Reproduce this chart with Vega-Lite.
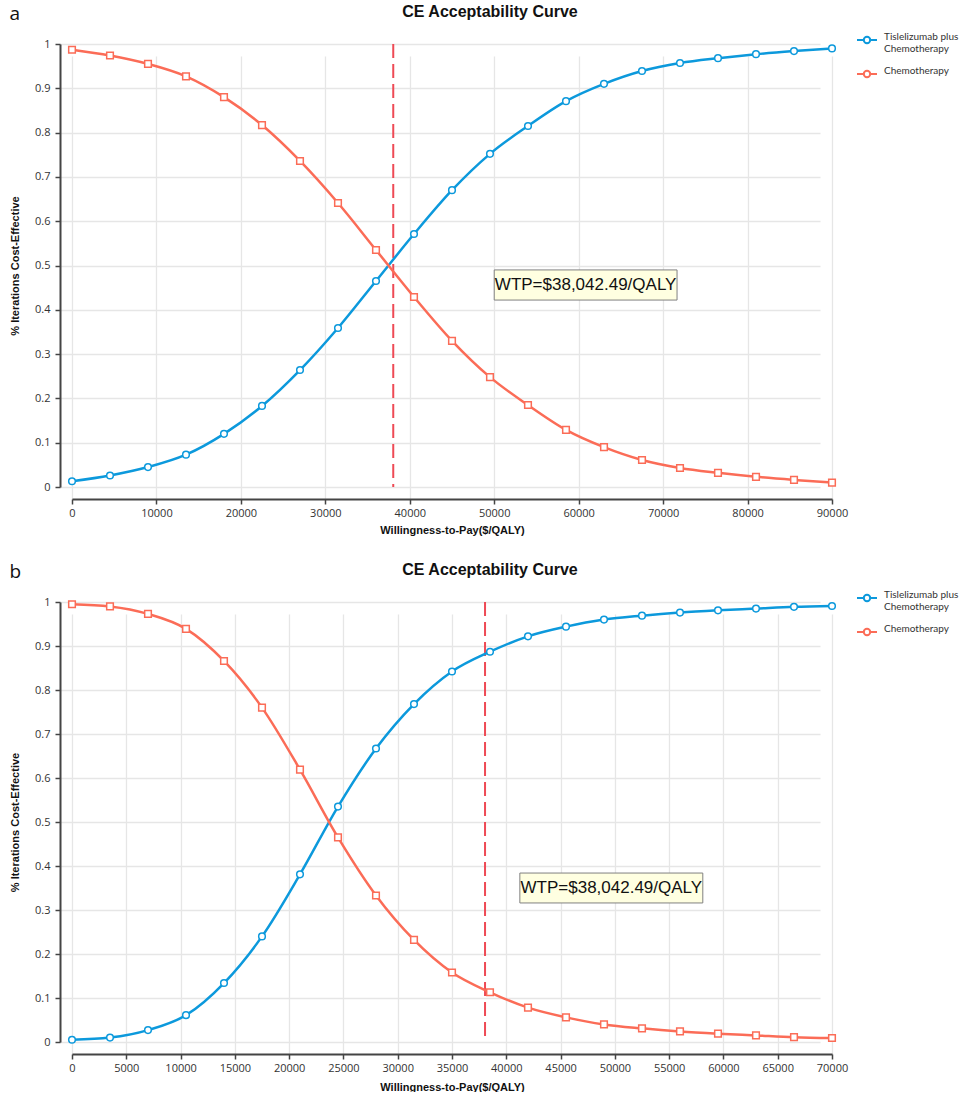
{
  "$schema": "https://vega.github.io/schema/vega-lite/v6.json",
  "description": "Cost-effectiveness acceptability curves, two scenarios.",
  "padding": {"left": 9, "top": 4, "right": 0, "bottom": 0},
  "background": "white",
  "datasets": {
    "curves": [
      {"panel": "a", "wtp": 0, "strategy": "Tislelizumab plus Chemotherapy", "p": 0.013},
      {"panel": "a", "wtp": 4500, "strategy": "Tislelizumab plus Chemotherapy", "p": 0.026},
      {"panel": "a", "wtp": 9000, "strategy": "Tislelizumab plus Chemotherapy", "p": 0.045},
      {"panel": "a", "wtp": 13500, "strategy": "Tislelizumab plus Chemotherapy", "p": 0.073},
      {"panel": "a", "wtp": 18000, "strategy": "Tislelizumab plus Chemotherapy", "p": 0.12},
      {"panel": "a", "wtp": 22500, "strategy": "Tislelizumab plus Chemotherapy", "p": 0.183},
      {"panel": "a", "wtp": 27000, "strategy": "Tislelizumab plus Chemotherapy", "p": 0.264},
      {"panel": "a", "wtp": 31500, "strategy": "Tislelizumab plus Chemotherapy", "p": 0.359},
      {"panel": "a", "wtp": 36000, "strategy": "Tislelizumab plus Chemotherapy", "p": 0.465},
      {"panel": "a", "wtp": 40500, "strategy": "Tislelizumab plus Chemotherapy", "p": 0.571},
      {"panel": "a", "wtp": 45000, "strategy": "Tislelizumab plus Chemotherapy", "p": 0.67},
      {"panel": "a", "wtp": 49500, "strategy": "Tislelizumab plus Chemotherapy", "p": 0.752},
      {"panel": "a", "wtp": 54000, "strategy": "Tislelizumab plus Chemotherapy", "p": 0.815},
      {"panel": "a", "wtp": 58500, "strategy": "Tislelizumab plus Chemotherapy", "p": 0.871},
      {"panel": "a", "wtp": 63000, "strategy": "Tislelizumab plus Chemotherapy", "p": 0.91},
      {"panel": "a", "wtp": 67500, "strategy": "Tislelizumab plus Chemotherapy", "p": 0.939},
      {"panel": "a", "wtp": 72000, "strategy": "Tislelizumab plus Chemotherapy", "p": 0.957},
      {"panel": "a", "wtp": 76500, "strategy": "Tislelizumab plus Chemotherapy", "p": 0.968},
      {"panel": "a", "wtp": 81000, "strategy": "Tislelizumab plus Chemotherapy", "p": 0.977},
      {"panel": "a", "wtp": 85500, "strategy": "Tislelizumab plus Chemotherapy", "p": 0.984},
      {"panel": "a", "wtp": 90000, "strategy": "Tislelizumab plus Chemotherapy", "p": 0.99},
      {"panel": "a", "wtp": 0, "strategy": "Chemotherapy", "p": 0.987},
      {"panel": "a", "wtp": 4500, "strategy": "Chemotherapy", "p": 0.974},
      {"panel": "a", "wtp": 9000, "strategy": "Chemotherapy", "p": 0.955},
      {"panel": "a", "wtp": 13500, "strategy": "Chemotherapy", "p": 0.927},
      {"panel": "a", "wtp": 18000, "strategy": "Chemotherapy", "p": 0.88},
      {"panel": "a", "wtp": 22500, "strategy": "Chemotherapy", "p": 0.817},
      {"panel": "a", "wtp": 27000, "strategy": "Chemotherapy", "p": 0.736},
      {"panel": "a", "wtp": 31500, "strategy": "Chemotherapy", "p": 0.641},
      {"panel": "a", "wtp": 36000, "strategy": "Chemotherapy", "p": 0.535},
      {"panel": "a", "wtp": 40500, "strategy": "Chemotherapy", "p": 0.429},
      {"panel": "a", "wtp": 45000, "strategy": "Chemotherapy", "p": 0.33},
      {"panel": "a", "wtp": 49500, "strategy": "Chemotherapy", "p": 0.248},
      {"panel": "a", "wtp": 54000, "strategy": "Chemotherapy", "p": 0.185},
      {"panel": "a", "wtp": 58500, "strategy": "Chemotherapy", "p": 0.129},
      {"panel": "a", "wtp": 63000, "strategy": "Chemotherapy", "p": 0.09},
      {"panel": "a", "wtp": 67500, "strategy": "Chemotherapy", "p": 0.061},
      {"panel": "a", "wtp": 72000, "strategy": "Chemotherapy", "p": 0.043},
      {"panel": "a", "wtp": 76500, "strategy": "Chemotherapy", "p": 0.032},
      {"panel": "a", "wtp": 81000, "strategy": "Chemotherapy", "p": 0.023},
      {"panel": "a", "wtp": 85500, "strategy": "Chemotherapy", "p": 0.016},
      {"panel": "a", "wtp": 90000, "strategy": "Chemotherapy", "p": 0.01},
      {"panel": "b", "wtp": 0, "strategy": "Tislelizumab plus Chemotherapy", "p": 0.005},
      {"panel": "b", "wtp": 3500, "strategy": "Tislelizumab plus Chemotherapy", "p": 0.01},
      {"panel": "b", "wtp": 7000, "strategy": "Tislelizumab plus Chemotherapy", "p": 0.027},
      {"panel": "b", "wtp": 10500, "strategy": "Tislelizumab plus Chemotherapy", "p": 0.061},
      {"panel": "b", "wtp": 14000, "strategy": "Tislelizumab plus Chemotherapy", "p": 0.134},
      {"panel": "b", "wtp": 17500, "strategy": "Tislelizumab plus Chemotherapy", "p": 0.24},
      {"panel": "b", "wtp": 21000, "strategy": "Tislelizumab plus Chemotherapy", "p": 0.381},
      {"panel": "b", "wtp": 24500, "strategy": "Tislelizumab plus Chemotherapy", "p": 0.535},
      {"panel": "b", "wtp": 28000, "strategy": "Tislelizumab plus Chemotherapy", "p": 0.667},
      {"panel": "b", "wtp": 31500, "strategy": "Tislelizumab plus Chemotherapy", "p": 0.768},
      {"panel": "b", "wtp": 35000, "strategy": "Tislelizumab plus Chemotherapy", "p": 0.842},
      {"panel": "b", "wtp": 38500, "strategy": "Tislelizumab plus Chemotherapy", "p": 0.887},
      {"panel": "b", "wtp": 42000, "strategy": "Tislelizumab plus Chemotherapy", "p": 0.922},
      {"panel": "b", "wtp": 45500, "strategy": "Tislelizumab plus Chemotherapy", "p": 0.944},
      {"panel": "b", "wtp": 49000, "strategy": "Tislelizumab plus Chemotherapy", "p": 0.96},
      {"panel": "b", "wtp": 52500, "strategy": "Tislelizumab plus Chemotherapy", "p": 0.969},
      {"panel": "b", "wtp": 56000, "strategy": "Tislelizumab plus Chemotherapy", "p": 0.976},
      {"panel": "b", "wtp": 59500, "strategy": "Tislelizumab plus Chemotherapy", "p": 0.981},
      {"panel": "b", "wtp": 63000, "strategy": "Tislelizumab plus Chemotherapy", "p": 0.985},
      {"panel": "b", "wtp": 66500, "strategy": "Tislelizumab plus Chemotherapy", "p": 0.989},
      {"panel": "b", "wtp": 70000, "strategy": "Tislelizumab plus Chemotherapy", "p": 0.991},
      {"panel": "b", "wtp": 0, "strategy": "Chemotherapy", "p": 0.995},
      {"panel": "b", "wtp": 3500, "strategy": "Chemotherapy", "p": 0.99},
      {"panel": "b", "wtp": 7000, "strategy": "Chemotherapy", "p": 0.973},
      {"panel": "b", "wtp": 10500, "strategy": "Chemotherapy", "p": 0.939},
      {"panel": "b", "wtp": 14000, "strategy": "Chemotherapy", "p": 0.866},
      {"panel": "b", "wtp": 17500, "strategy": "Chemotherapy", "p": 0.76},
      {"panel": "b", "wtp": 21000, "strategy": "Chemotherapy", "p": 0.619},
      {"panel": "b", "wtp": 24500, "strategy": "Chemotherapy", "p": 0.465},
      {"panel": "b", "wtp": 28000, "strategy": "Chemotherapy", "p": 0.333},
      {"panel": "b", "wtp": 31500, "strategy": "Chemotherapy", "p": 0.232},
      {"panel": "b", "wtp": 35000, "strategy": "Chemotherapy", "p": 0.158},
      {"panel": "b", "wtp": 38500, "strategy": "Chemotherapy", "p": 0.113},
      {"panel": "b", "wtp": 42000, "strategy": "Chemotherapy", "p": 0.078},
      {"panel": "b", "wtp": 45500, "strategy": "Chemotherapy", "p": 0.056},
      {"panel": "b", "wtp": 49000, "strategy": "Chemotherapy", "p": 0.04},
      {"panel": "b", "wtp": 52500, "strategy": "Chemotherapy", "p": 0.031},
      {"panel": "b", "wtp": 56000, "strategy": "Chemotherapy", "p": 0.024},
      {"panel": "b", "wtp": 59500, "strategy": "Chemotherapy", "p": 0.019},
      {"panel": "b", "wtp": 63000, "strategy": "Chemotherapy", "p": 0.015},
      {"panel": "b", "wtp": 66500, "strategy": "Chemotherapy", "p": 0.011},
      {"panel": "b", "wtp": 70000, "strategy": "Chemotherapy", "p": 0.009}
    ],
    "notes": [
      {"panel": "a", "threshold": 38042.49, "x": 50000, "x2": 71650, "xm": 60825, "y": 0.422, "y2": 0.49, "ym": 0.456, "label": "WTP=$38,042.49/QALY"},
      {"panel": "b", "threshold": 38042.49, "x": 41250, "x2": 58100, "xm": 49675, "y": 0.316, "y2": 0.384, "ym": 0.35, "label": "WTP=$38,042.49/QALY"}
    ]
  },
  "vconcat": [
    {
      "title": {"text": "a", "anchor": "start", "frame": "bounds", "offset": -20, "dx": 0, "fontSize": 19, "fontWeight": "normal", "font": "Open Sans", "color": "#111"},
      "vconcat": [
        {
          "title": "CE Acceptability Curve",
          "width": 760,
          "height": 443,
          "layer": [
            {
              "data": {"name": "notes"},
              "transform": [{"filter": "datum.panel == 'a'"}],
              "mark": {"type": "rule", "color": "#ee4a55", "strokeWidth": 2, "strokeDash": [14, 6]},
              "encoding": {"x": {"field": "threshold", "type": "quantitative"}}
            },
            {
              "data": {"name": "curves"},
              "transform": [{"filter": "datum.panel == 'a'"}],
              "mark": {"type": "line", "interpolate": "monotone", "strokeWidth": 2.5},
              "encoding": {
                "x": {"field": "wtp", "type": "quantitative", "scale": {"domain": [0, 90000], "nice": false}, "axis": {"values": [0, 10000, 20000, 30000, 40000, 50000, 60000, 70000, 80000, 90000], "titlePadding": 6}, "title": "Willingness-to-Pay($/QALY)"},
                "y": {"field": "p", "type": "quantitative", "scale": {"domain": [0, 1], "nice": false}, "title": "% Iterations Cost-Effective"},
                "stroke": {"field": "strategy", "type": "nominal", "sort": ["Tislelizumab plus Chemotherapy", "Chemotherapy"], "scale": {"domain": ["Tislelizumab plus Chemotherapy", "Chemotherapy"], "range": ["#0c99dc", "#fb6c57"]}, "title": null, "legend": {"labelExpr": "datum.label == 'Chemotherapy' ? datum.label : ['Tislelizumab plus', 'Chemotherapy']"}}
              }
            },
            {
              "data": {"name": "curves"},
              "transform": [{"filter": "datum.panel == 'a'"}],
              "mark": {"type": "point", "filled": false, "fill": "white", "fillOpacity": 1, "size": 44, "strokeWidth": 1.5, "opacity": 1},
              "encoding": {
                "x": {"field": "wtp", "type": "quantitative"},
                "y": {"field": "p", "type": "quantitative"},
                "stroke": {"field": "strategy", "type": "nominal", "title": null},
                "shape": {"field": "strategy", "type": "nominal", "scale": {"domain": ["Tislelizumab plus Chemotherapy", "Chemotherapy"], "range": ["circle", "square"]}, "legend": null}
              }
            },
            {
              "data": {"name": "notes"},
              "transform": [{"filter": "datum.panel == 'a'"}],
              "mark": {"type": "rect", "fill": "#ffffe1", "stroke": "#808080", "strokeWidth": 1},
              "encoding": {
                "x": {"field": "x", "type": "quantitative"}, "x2": {"field": "x2"},
                "y": {"field": "y", "type": "quantitative"}, "y2": {"field": "y2"}
              }
            },
            {
              "data": {"name": "notes"},
              "transform": [{"filter": "datum.panel == 'a'"}],
              "mark": {"type": "text", "font": "Liberation Sans", "fontSize": 17, "color": "#111", "align": "center", "baseline": "middle"},
              "encoding": {
                "x": {"field": "xm", "type": "quantitative"},
                "y": {"field": "ym", "type": "quantitative"},
                "text": {"field": "label"}
              }
            }
          ]
        }
      ]
    },
    {
      "title": {"text": "b", "anchor": "start", "frame": "bounds", "offset": -20, "dx": 0, "fontSize": 19, "fontWeight": "normal", "font": "Open Sans", "color": "#111"},
      "vconcat": [
        {
          "title": "CE Acceptability Curve",
          "width": 760,
          "height": 440,
          "layer": [
            {
              "data": {"name": "notes"},
              "transform": [{"filter": "datum.panel == 'b'"}],
              "mark": {"type": "rule", "color": "#ee4a55", "strokeWidth": 2, "strokeDash": [14, 6]},
              "encoding": {"x": {"field": "threshold", "type": "quantitative"}}
            },
            {
              "data": {"name": "curves"},
              "transform": [{"filter": "datum.panel == 'b'"}],
              "mark": {"type": "line", "interpolate": "monotone", "strokeWidth": 2.5},
              "encoding": {
                "x": {"field": "wtp", "type": "quantitative", "scale": {"domain": [0, 70000], "nice": false}, "axis": {"values": [0, 5000, 10000, 15000, 20000, 25000, 30000, 35000, 40000, 45000, 50000, 55000, 60000, 65000, 70000], "titlePadding": 8}, "title": "Willingness-to-Pay($/QALY)"},
                "y": {"field": "p", "type": "quantitative", "scale": {"domain": [0, 1], "nice": false}, "title": "% Iterations Cost-Effective"},
                "stroke": {"field": "strategy", "type": "nominal", "sort": ["Tislelizumab plus Chemotherapy", "Chemotherapy"], "scale": {"domain": ["Tislelizumab plus Chemotherapy", "Chemotherapy"], "range": ["#0c99dc", "#fb6c57"]}, "title": null, "legend": {"labelExpr": "datum.label == 'Chemotherapy' ? datum.label : ['Tislelizumab plus', 'Chemotherapy']"}}
              }
            },
            {
              "data": {"name": "curves"},
              "transform": [{"filter": "datum.panel == 'b'"}],
              "mark": {"type": "point", "filled": false, "fill": "white", "fillOpacity": 1, "size": 44, "strokeWidth": 1.5, "opacity": 1},
              "encoding": {
                "x": {"field": "wtp", "type": "quantitative"},
                "y": {"field": "p", "type": "quantitative"},
                "stroke": {"field": "strategy", "type": "nominal", "title": null},
                "shape": {"field": "strategy", "type": "nominal", "scale": {"domain": ["Tislelizumab plus Chemotherapy", "Chemotherapy"], "range": ["circle", "square"]}, "legend": null}
              }
            },
            {
              "data": {"name": "notes"},
              "transform": [{"filter": "datum.panel == 'b'"}],
              "mark": {"type": "rect", "fill": "#ffffe1", "stroke": "#808080", "strokeWidth": 1},
              "encoding": {
                "x": {"field": "x", "type": "quantitative"}, "x2": {"field": "x2"},
                "y": {"field": "y", "type": "quantitative"}, "y2": {"field": "y2"}
              }
            },
            {
              "data": {"name": "notes"},
              "transform": [{"filter": "datum.panel == 'b'"}],
              "mark": {"type": "text", "font": "Liberation Sans", "fontSize": 17, "color": "#111", "align": "center", "baseline": "middle"},
              "encoding": {
                "x": {"field": "xm", "type": "quantitative"},
                "y": {"field": "ym", "type": "quantitative"},
                "text": {"field": "label"}
              }
            }
          ]
        }
      ]
    }
  ],
  "spacing": 27,
  "resolve": {"scale": {"stroke": "independent", "x": "independent", "y": "independent"}, "legend": {"stroke": "independent"}},
  "config": {
    "view": {"stroke": null},
    "title": {"font": "Liberation Sans", "fontSize": 16, "fontWeight": "bold", "color": "#111", "anchor": "middle", "frame": "group", "dx": 38, "offset": 18},
    "axis": {
      "offset": 12,
      "domainColor": "#444",
      "domainWidth": 2,
      "tickColor": "#444",
      "tickWidth": 1.5,
      "tickSize": 5,
      "labelFont": "Open Sans",
      "labelFontSize": 11,
      "labelColor": "#333",
      "titleFont": "Liberation Sans",
      "titleFontSize": 11,
      "titleFontWeight": "bold",
      "titleColor": "#111",
      "gridColor": "#e6e6e6",
      "gridWidth": 1.3
    },
    "axisX": {"labelFlush": false, "labelPadding": 3, "format": "d", "labelOverlap": false},
    "axisY": {"labelPadding": 5, "titlePadding": 14, "values": [0, 0.1, 0.2, 0.3, 0.4, 0.5, 0.6, 0.7, 0.8, 0.9, 1], "format": "~g"},
    "legend": {
      "orient": "none",
      "legendX": 784,
      "legendY": -15,
      "symbolType": "M-1,0H-0.32M0.32,0H1M0.32,0A0.32,0.32,0,1,1,-0.32,0A0.32,0.32,0,1,1,0.32,0",
      "symbolSize": 400,
      "symbolStrokeWidth": 2,
      "symbolFillColor": "white",
      "labelFont": "Lato",
      "labelFontSize": 10,
      "labelColor": "#333",
      "labelLimit": 200,
      "labelOffset": 6,
      "labelBaseline": "alphabetic",
      "rowPadding": 9,
      "padding": 0
    }
  }
}
